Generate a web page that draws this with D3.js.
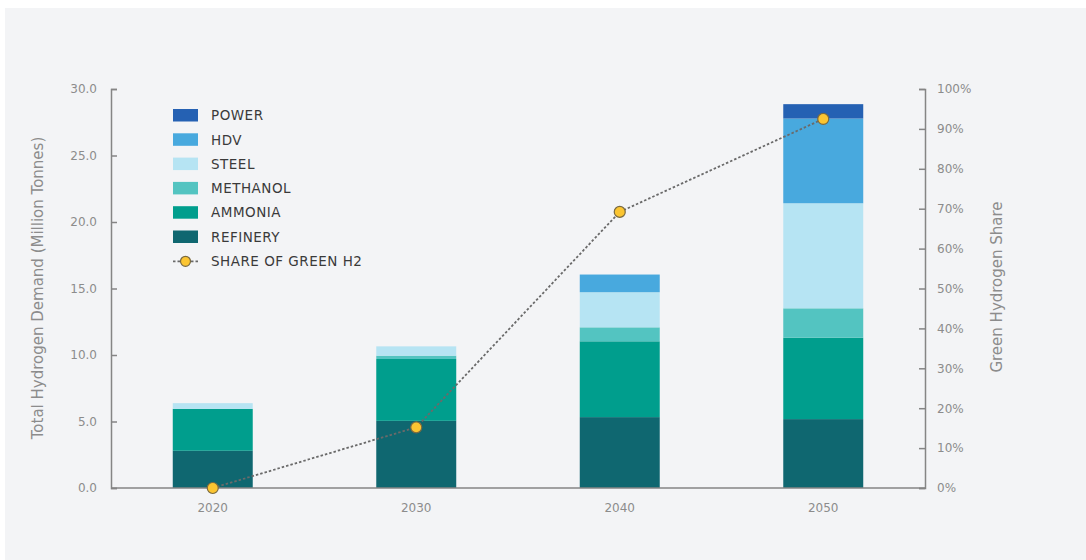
<!DOCTYPE html>
<html>
<head>
<meta charset="utf-8">
<script src="https://cdn.jsdelivr.net/npm/d3@7"></script>
<style>
  body { margin: 0; background: #fff; }
  svg { display: block; }
  text { font-family: "DejaVu Sans", sans-serif; }
</style>
</head>
<body>
<div id="chart"></div>
<script>
// Data
var years = ['2020', '2030', '2040', '2050'];
var sectors = ['REFINERY', 'AMMONIA', 'METHANOL', 'STEEL', 'HDV', 'POWER'];
var refinery = [2.8, 5.05, 5.33, 5.18];
var ammonia = [3.15, 4.65, 5.7, 6.12];
var methanol = [0, 0.25, 1.05, 2.21];
var steel = [0.43, 0.7, 2.64, 7.9];
var hdv = [0, 0, 1.33, 6.37];
var power = [0, 0, 0, 1.08];
var greenShare = [0, 0.152, 0.692, 0.925];
var leftTicks = [0, 5, 10, 15, 20, 25, 30];
var rightTicks = [0, 0.1, 0.2, 0.3, 0.4, 0.5, 0.6, 0.7, 0.8, 0.9, 1];

var colors = {
    REFINERY: '#0f6770',
    AMMONIA: '#009e8d',
    METHANOL: '#53c4c1',
    STEEL: '#b6e4f3',
    HDV: '#48a9de',
    POWER: '#2561b3'
};

var rows = years.map(function(y, i) {
    return { year: y, REFINERY: refinery[i], AMMONIA: ammonia[i], METHANOL: methanol[i],
             STEEL: steel[i], HDV: hdv[i], POWER: power[i] };
});

var W = 1086, H = 560;
var margin = { top: 89, right: 161, bottom: 72, left: 111 };
var width = W - margin.left - margin.right;
var height = H - margin.top - margin.bottom;

var svg = d3.select("#chart").append("svg")
    .attr("width", W)
    .attr("height", H);

// grey panel
svg.append("rect")
    .attr("x", 5).attr("y", 8)
    .attr("width", W - 5).attr("height", H - 8)
    .attr("fill", "#f3f4f6");

var g = svg.append("g")
    .attr("transform", "translate(" + margin.left + "," + margin.top + ")");

var x = d3.scaleBand().domain(years).range([0, width]).paddingInner(0.607).paddingOuter(0.3035);
var y = d3.scaleLinear().domain([0, 30]).range([height, 0]);
var y2 = d3.scaleLinear().domain([0, 1]).range([height, 0]);

// stacked bars
var stack = d3.stack().keys(sectors);
var series = stack(rows);

g.selectAll(".layer")
    .data(series)
    .enter().append("g")
    .attr("class", "layer")
    .attr("fill", d => colors[d.key])
    .selectAll("rect")
    .data(d => d)
    .enter().append("rect")
    .attr("x", d => x(d.data.year))
    .attr("y", d => y(d[1]))
    .attr("width", x.bandwidth())
    .attr("height", d => Math.max(0, y(d[0]) - y(d[1])));

// axes
var axisColor = "#858585";
var leftAxis = g.append("g")
    .call(d3.axisLeft(y).tickValues(leftTicks).tickFormat(d3.format(".1f")).tickSizeInner(-6).tickSizeOuter(-6).tickPadding(14));
var rightAxis = g.append("g")
    .attr("transform", "translate(" + width + ",0)")
    .call(d3.axisRight(y2).tickValues(rightTicks).tickFormat(d3.format(".0%")).tickSizeInner(-6).tickSizeOuter(-6).tickPadding(12));

[leftAxis, rightAxis].forEach(function(a) {
    a.select(".domain").attr("stroke", axisColor).attr("stroke-width", 1.5);
    a.selectAll(".tick line").attr("stroke", axisColor).attr("stroke-width", 1.5);
    a.selectAll(".tick text").attr("fill", "#8c8c8c").style("font-size", "12px");
});

// x baseline and year labels
g.append("line")
    .attr("x1", 0).attr("x2", width)
    .attr("y1", height).attr("y2", height)
    .attr("stroke", axisColor).attr("stroke-width", 1.5);

g.selectAll(".year")
    .data(years)
    .enter().append("text")
    .attr("class", "year")
    .attr("x", d => x(d) + x.bandwidth() / 2)
    .attr("y", height + 24)
    .attr("text-anchor", "middle")
    .attr("fill", "#8c8c8c")
    .style("font-size", "12px")
    .text(d => d);

// axis titles
svg.append("text")
    .attr("transform", "translate(43,288) rotate(-90)")
    .attr("text-anchor", "middle")
    .attr("fill", "#8c8c8c")
    .style("font-size", "15px")
    .text("Total Hydrogen Demand (Million Tonnes)");

svg.append("text")
    .attr("transform", "translate(1002,287) rotate(-90)")
    .attr("text-anchor", "middle")
    .attr("fill", "#8c8c8c")
    .style("font-size", "15px")
    .text("Green Hydrogen Share");

// green share line
var line = d3.line()
    .x((d, i) => x(years[i]) + x.bandwidth() / 2)
    .y(d => y2(d));

g.append("path")
    .datum(greenShare)
    .attr("fill", "none")
    .attr("stroke", "#6a6a6a")
    .attr("stroke-width", 1.8)
    .attr("stroke-dasharray", "2.5,2")
    .attr("d", line);

g.selectAll(".dot")
    .data(greenShare)
    .enter().append("circle")
    .attr("class", "dot")
    .attr("cx", (d, i) => x(years[i]) + x.bandwidth() / 2)
    .attr("cy", d => y2(d))
    .attr("r", 5.5)
    .attr("fill", "#fbc531")
    .attr("stroke", "#7a6a40")
    .attr("stroke-width", 1.2);

// legend
var legendItems = sectors.slice().reverse();
var legend = svg.append("g").attr("transform", "translate(173,109)");

legend.selectAll(".sw")
    .data(legendItems)
    .enter().append("rect")
    .attr("x", 0)
    .attr("y", (d, i) => i * 24.3)
    .attr("width", 25)
    .attr("height", 12.5)
    .attr("fill", d => colors[d]);

var legendLabels = legendItems.concat(["SHARE OF GREEN H2"]);
legend.selectAll(".lt")
    .data(legendLabels)
    .enter().append("text")
    .attr("x", 38)
    .attr("y", (d, i) => i * 24.3 + 6.5)
    .attr("dy", "0.35em")
    .attr("fill", "#3a3a3a")
    .style("font-size", "13.5px")
    .style("letter-spacing", "0.5px")
    .text(d => d);

var ly = 6 * 24.3 + 6.5;
legend.append("line")
    .attr("x1", 0).attr("x2", 25)
    .attr("y1", ly).attr("y2", ly)
    .attr("stroke", "#6a6a6a")
    .attr("stroke-width", 1.8)
    .attr("stroke-dasharray", "2.5,2");
legend.append("circle")
    .attr("cx", 12.5).attr("cy", ly).attr("r", 5)
    .attr("fill", "#fbc531")
    .attr("stroke", "#7a6a40")
    .attr("stroke-width", 1.2);
</script>
</body>
</html>
